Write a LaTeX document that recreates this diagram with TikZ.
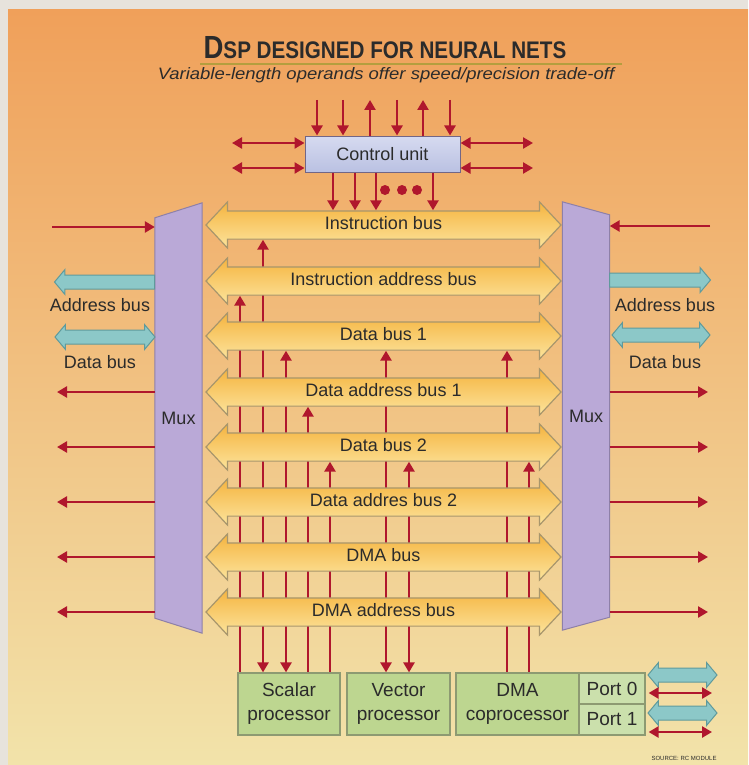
\documentclass[tikz,border=0pt]{standalone}
\usepackage{fontspec}
\setsansfont{Liberation Sans}
\usetikzlibrary{arrows.meta}
\usetikzlibrary{shapes}

\definecolor{paperGray}{HTML}{E7E3DC}
\definecolor{bgTop}{HTML}{F0A05A}
\definecolor{bgMid}{HTML}{F5C69C}
\definecolor{bgBottom}{HTML}{F2E3AA}
\definecolor{wireRed}{HTML}{B0172D}
\definecolor{busTop}{HTML}{F5B440}
\definecolor{busBottom}{HTML}{FCE49C}
\definecolor{busEdge}{HTML}{A8966C}
\definecolor{muxFill}{HTML}{BAA9D7}
\definecolor{muxEdge}{HTML}{8E80A8}
\definecolor{cuTop}{HTML}{D6DAF0}
\definecolor{cuBottom}{HTML}{BAC1E2}
\definecolor{procFill}{HTML}{BDD690}
\definecolor{portFill}{HTML}{CBE0AC}
\definecolor{procEdge}{HTML}{8D9A72}
\definecolor{cyanFill}{HTML}{8CC8C8}
\definecolor{cyanEdge}{HTML}{5F9A9C}
\definecolor{textGray}{HTML}{2B2B2B}
\definecolor{ruleOlive}{HTML}{B49E3E}

\pgfdeclarelayer{back}
\pgfdeclarelayer{wires}
\pgfsetlayers{back,wires,main}

\begin{document}
\begin{tikzpicture}[x=1pt, y=-1pt, font=\sffamily, text=textGray]
	\tikzstyle{wire}=[draw=wireRed, line width=2.6pt]
	\tikzstyle{endTip}=[-{Triangle[length=10pt,width=11pt]}]
	\tikzstyle{startTip}=[{Triangle[length=10pt,width=11pt]}-]
	\tikzstyle{bothTip}=[{Triangle[length=10pt,width=11pt]}-{Triangle[length=10pt,width=11pt]}]
	\tikzstyle{busStyle}=[shape = double arrow, draw = busEdge, line width = 1.2pt, top color = busTop, bottom color = busBottom, minimum height = 355pt, double arrow head extend = 9pt, double arrow tip angle = 94, inner ysep = 5pt, text height = 13pt, text depth = 4pt, font = \sffamily\fontsize{18}{20}\selectfont]
	\tikzstyle{muxStyle}=[shape = rectangle, minimum width = 47pt, inner sep = 0pt, font = \sffamily\fontsize{18}{20}\selectfont]
	\tikzstyle{procStyle}=[shape = rectangle, draw = procEdge, fill = procFill, line width = 1.2pt, align = center, inner sep = 0pt, minimum height = 62pt, font = \sffamily\fontsize{19}{24}\selectfont]
	\tikzstyle{portStyle}=[procStyle, fill = portFill, minimum width = 66pt, minimum height = 31pt, font = \sffamily\fontsize{19}{20}\selectfont]
	\tikzstyle{cyanArrow}=[shape = single arrow, draw = cyanEdge, fill = cyanFill, line width = 1pt, inner xsep = 0pt, inner ysep = 6.5pt, text height = 0pt, text depth = 0pt, single arrow head extend = 5.5pt, single arrow tip angle = 100]
	\tikzstyle{cyanDouble}=[shape = double arrow, draw = cyanEdge, fill = cyanFill, line width = 1pt, inner xsep = 0pt, inner ysep = 6.5pt, text height = 0pt, text depth = 0pt, double arrow head extend = 5.5pt, double arrow tip angle = 100]
	\tikzstyle{sideLabel}=[inner sep = 0pt, font = \sffamily\fontsize{18}{20}\selectfont]
	\useasboundingbox (0,0) rectangle (748,765);
	\begin{pgfonlayer}{back}
		\fill[paperGray] (0,0) rectangle (748,765);
		\shade[top color = bgTop, middle color = bgMid, bottom color = bgBottom] (8,10) rectangle (748,765);
	\end{pgfonlayer}
	\node[anchor = base, inner sep = 0pt] (title) at (385,59) {\scalebox{0.86}[1]{\bfseries\fontsize{32}{32}\selectfont D\fontsize{24}{24}\selectfont SP DESIGNED FOR NEURAL NETS}};
	\draw[ruleOlive, line width = 1.2pt] (200,64) -- (622,64);
	\node[anchor = base, inner sep = 0pt] (subtitle) at (386,80) {\scalebox{1.12}[1]{\itshape\fontsize{16.5}{18}\selectfont Variable-length operands offer speed/precision trade-off}};
	\node[anchor = base, inner sep = 0pt, font = \sffamily\fontsize{6}{6}\selectfont] (source) at (684,760) {SOURCE: RC MODULE};
	\node[shape = rectangle, draw = muxEdge!80!black, line width = 1pt, top color = cuTop, bottom color = cuBottom, minimum width = 155pt, minimum height = 36pt, font = \sffamily\fontsize{18}{20}\selectfont] (cu) at (382.5,154) {Control unit};
	\foreach \name/\y/\txt in {ib/225/Instruction bus, iab/281/Instruction address bus, db1/336/Data bus 1, dab1/392/Data address bus 1, db2/447/Data bus 2, dab2/502/Data addres bus 2, dma/557/DMA bus, dmaa/612/DMA address bus}
		\node[busStyle] (\name) at (383.5,\y) {\txt};
	\node[muxStyle, minimum height = 430pt] (muxL) at (178.5,418) {Mux};
	\node[muxStyle, minimum height = 428pt] (muxR) at (586,416) {Mux};
	\node[procStyle, minimum width = 102pt] (scalar) at (289,704) {Scalar\\processor};
	\node[procStyle, minimum width = 103pt] (vector) at (398.5,704) {Vector\\processor};
	\node[procStyle, minimum width = 123pt] (dmacp) at (517.5,704) {DMA\\coprocessor};
	\node[portStyle] (port0) at (612,688.5) {Port 0};
	\node[portStyle] (port1) at (612,719.5) {Port 1};
	\begin{pgfonlayer}{wires}
		\filldraw[fill = muxFill, draw = muxEdge, line width = 1pt] ([yshift = -15pt]muxL.north west) -- (muxL.north east) -- (muxL.south east) -- ([yshift = 15pt]muxL.south west) -- cycle;
		\filldraw[fill = muxFill, draw = muxEdge, line width = 1pt] (muxR.north west) -- ([yshift = -13pt]muxR.north east) -- ([yshift = 13pt]muxR.south east) -- (muxR.south west) -- cycle;
		\foreach \x/\proc/\bus/\st in {240/scalar/iab/endTip, 263/scalar/ib/bothTip, 286/scalar/db1/bothTip, 308/scalar/dab1/endTip, 330/scalar/db2/endTip, 386/vector/db1/bothTip, 409/vector/db2/bothTip, 507/dmacp/db1/endTip, 529/dmacp/db2/endTip}
			\draw[wire, \st] (\x,0 |- \proc.north) -- (\x,0 |- \bus.south);
	\end{pgfonlayer}
	\foreach \x/\st in {317/endTip, 343/endTip, 370/startTip, 397/endTip, 423/startTip, 450/endTip} {
		\coordinate (cuIn\x) at (\x,100);
		\draw[wire, \st] (cuIn\x) -- (cuIn\x |- cu.north);
	}
	\foreach \x in {333, 355, 376, 433}
		\draw[wire, endTip] (\x,0 |- cu.south) -- (\x,0 |- ib.north);
	\foreach \x in {385, 402, 417}
		\fill[wireRed] (\x,190) circle (5pt);
	\foreach \y in {143, 168} {
		\coordinate (cuLeft\y) at (232,\y);
		\coordinate (cuRight\y) at (533,\y);
		\draw[wire, bothTip] (cuLeft\y) -- (cuLeft\y -| cu.west);
		\draw[wire, bothTip] (cuRight\y -| cu.east) -- (cuRight\y);
	}
	\coordinate (inL) at (52,227);
	\coordinate (inR) at (710,226);
	\draw[wire, endTip] (inL) -- (inL -| muxL.west);
	\draw[wire, endTip] (inR) -- (inR -| muxR.east);
	\foreach \b in {dab1, db2, dab2, dma, dmaa} {
		\coordinate (outL\b) at (57,0 |- \b);
		\coordinate (outR\b) at (708,0 |- \b);
		\draw[wire, endTip] (muxL.west |- \b) -- (outL\b);
		\draw[wire, endTip] (muxR.east |- \b) -- (outR\b);
	}
	\node[cyanArrow, shape border rotate = 180, anchor = tail, minimum height = 100pt] (addrL) at (155,282) {};
	\node[cyanDouble, minimum height = 100pt] (dataL) at (105,337) {};
	\node[cyanArrow, anchor = tail, minimum height = 101pt] (addrR) at (609,280) {};
	\node[cyanDouble, minimum height = 98pt] (dataR) at (661,335) {};
	\node[sideLabel] (addrLtxt) at (100,305) {Address bus};
	\node[sideLabel] (dataLtxt) at (100,362) {Data bus};
	\node[sideLabel] (addrRtxt) at (665,305) {Address bus};
	\node[sideLabel] (dataRtxt) at (665,362) {Data bus};
	\node[cyanDouble, minimum height = 69pt] (port0bus) at (682.5,675) {};
	\node[cyanDouble, minimum height = 69pt] (port1bus) at (682.5,713) {};
	\coordinate (port0end) at (712,693);
	\coordinate (port1end) at (712,732);
	\draw[wire, bothTip] ([xshift = 3pt]port0end -| port0.east) -- (port0end);
	\draw[wire, bothTip] ([xshift = 3pt]port1end -| port1.east) -- (port1end);
\end{tikzpicture}
\end{document}
